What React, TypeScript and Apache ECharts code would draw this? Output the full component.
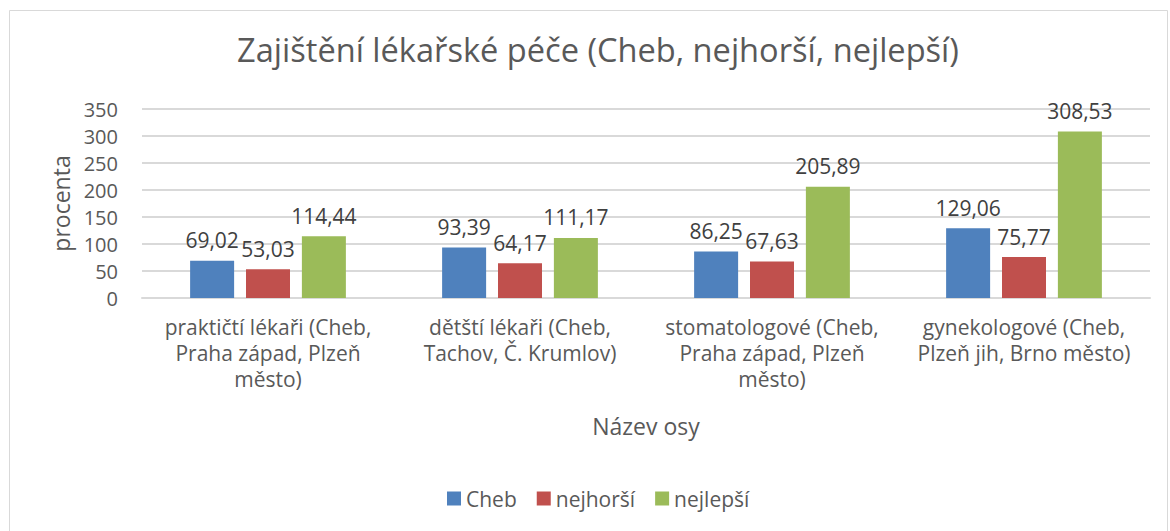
import React, { useEffect, useRef } from "react";
import * as echarts from "echarts";

const categories = [
  "praktičtí lékaři (Cheb,\nPraha západ, Plzeň\nměsto)",
  "dětští lékaři (Cheb,\nTachov, Č. Krumlov)",
  "stomatologové (Cheb,\nPraha západ, Plzeň\nměsto)",
  "gynekologové (Cheb,\nPlzeň jih, Brno město)",
];
const seriesNames = ["Cheb", "nejhorší", "nejlepší"];
const chebValues = [69.02, 93.39, 86.25, 129.06];
const worstValues = [53.03, 64.17, 67.63, 75.77];
const bestValues = [114.44, 111.17, 205.89, 308.53];
const colors = ["#4F81BD", "#C0504D", "#9BBB59"];
const yTicks = { min: 0, max: 350, interval: 50 };

const FONT = "'Open Sans', sans-serif";
const TXT = "#595959";

export default function App() {
  const ref = useRef<HTMLDivElement>(null);
  useEffect(() => {
    if (!ref.current) return;
    const chart = echarts.init(ref.current, null, { renderer: "svg" });
    const values = [chebValues, worstValues, bestValues];
    chart.setOption({
      animation: false,
      backgroundColor: "#ffffff",
      textStyle: { fontFamily: FONT },
      title: {
        text: "Zajištění lékařské péče (Cheb, nejhorší, nejlepší)",
        left: 593,
        textAlign: "center",
        top: 28,
        textStyle: { fontFamily: FONT, fontSize: 32.6, fontWeight: "normal", color: TXT },
      },
      graphic: [
        {
          type: "rect",
          shape: { x: 9.5, y: 10.5, width: 1158, height: 540 },
          style: { fill: "none", stroke: "#d9d9d9", lineWidth: 1 },
          silent: true,
        },
      ],
      legend: {
        data: seriesNames,
        left: 442,
        top: 483,
        itemWidth: 14,
        itemHeight: 14,
        itemGap: 20,
        icon: "rect",
        textStyle: { fontFamily: FONT, fontSize: 21, color: TXT },
      },
      grid: { left: 142, right: 20, top: 109, bottom: 233, containLabel: false },
      xAxis: {
        type: "category",
        data: categories,
        name: "Název osy",
        nameLocation: "middle",
        nameGap: 116,
        nameTextStyle: { fontFamily: FONT, fontSize: 23, color: TXT },
        axisLine: { show: true, lineStyle: { color: "#d9d9d9", width: 2 } },
        axisTick: { show: false },
        axisLabel: {
          interval: 0,
          margin: 16,
          fontFamily: FONT,
          fontSize: 21,
          lineHeight: 26,
          color: TXT,
          align: "center",
        },
      },
      yAxis: {
        type: "value",
        min: yTicks.min,
        max: yTicks.max,
        interval: yTicks.interval,
        name: "procenta",
        nameLocation: "middle",
        nameGap: 68,
        nameTextStyle: { fontFamily: FONT, fontSize: 23, color: TXT },
        axisLine: { show: false },
        axisTick: { show: false },
        axisLabel: { margin: 24, fontFamily: FONT, fontSize: 20, color: TXT },
        splitLine: { lineStyle: { color: "#d9d9d9", width: 2 } },
      },
      series: seriesNames.map((name, i) => ({
        name,
        type: "bar",
        data: values[i],
        barWidth: 44,
        barGap: "27%",
        itemStyle: { color: colors[i] },
        label: {
          show: true,
          position: "top",
          distance: 10,
          fontFamily: FONT,
          fontSize: 21,
          color: "#404040",
          formatter: (p: any) => p.value.toFixed(2).replace(".", ","),
        },
      })),
    });
    return () => chart.dispose();
  }, []);
  return (
    <div
      ref={ref}
      style={{ position: "absolute", left: 0, top: 0, width: 1170, height: 531 }}
    />
  );
}
